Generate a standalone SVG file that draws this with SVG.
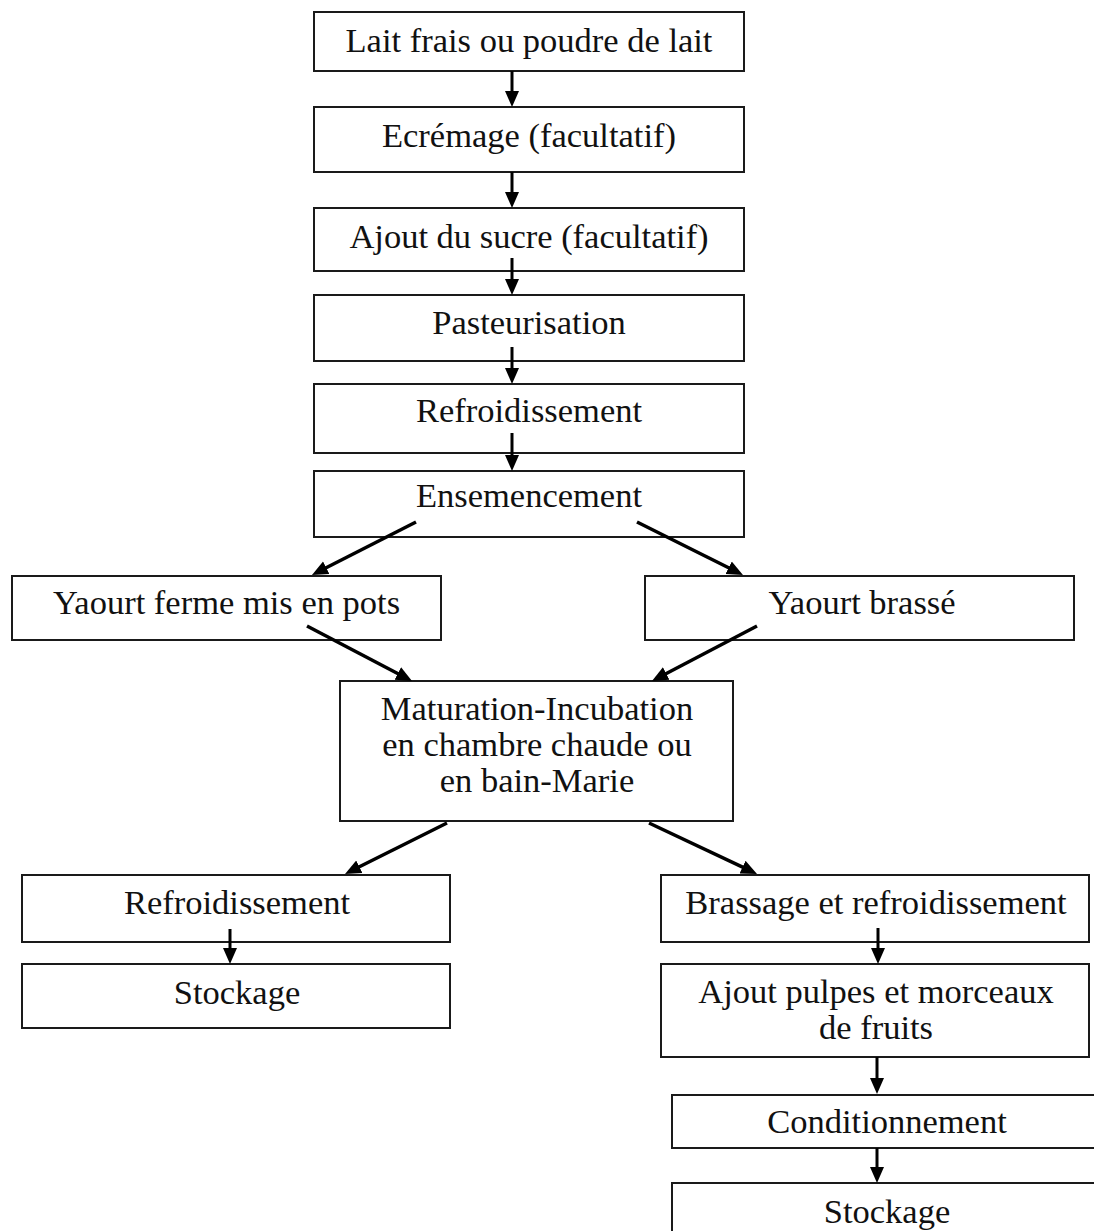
<svg xmlns="http://www.w3.org/2000/svg" width="1094" height="1231" viewBox="0 0 1094 1231">
<style>
.box{fill:#fff;stroke:#1a1a1a;stroke-width:2}
.t{font-family:"Liberation Serif","Times New Roman",serif;font-size:34.5px;fill:#111;text-anchor:middle}
.c{stroke:#000;stroke-width:3.5;fill:none;marker-end:url(#ah)}
.v{stroke-width:3}
</style>
<defs>
<marker id="ah" markerUnits="userSpaceOnUse" markerWidth="16" markerHeight="16" viewBox="0 0 16 16" refX="10" refY="8" orient="auto">
<path d="M0,1 L16,8 L0,15 z" fill="#000"/>
</marker>
</defs>
<rect width="1094" height="1231" fill="#fff"/>
<g id="n1"><rect class="box" x="314" y="12" width="430" height="59"/><text class="t" x="529" y="52">Lait frais ou poudre de lait</text></g>
<g id="n2"><rect class="box" x="314" y="107" width="430" height="65"/><text class="t" x="529" y="147">Ecrémage (facultatif)</text></g>
<g id="n3"><rect class="box" x="314" y="208" width="430" height="63"/><text class="t" x="529" y="248">Ajout du sucre (facultatif)</text></g>
<g id="n4"><rect class="box" x="314" y="295" width="430" height="66"/><text class="t" x="529" y="334">Pasteurisation</text></g>
<g id="n5"><rect class="box" x="314" y="384" width="430" height="69"/><text class="t" x="529" y="422">Refroidissement</text></g>
<g id="n6"><rect class="box" x="314" y="471" width="430" height="66"/><text class="t" x="529" y="507">Ensemencement</text></g>
<g id="n7"><rect class="box" x="12" y="576" width="429" height="64"/><text class="t" x="226.5" y="614">Yaourt ferme mis en pots</text></g>
<g id="n8"><rect class="box" x="645" y="576" width="429" height="64"/><text class="t" x="862" y="614">Yaourt brassé</text></g>
<g id="n9"><rect class="box" x="340" y="681" width="393" height="140"/>
<text class="t" x="537" y="720">Maturation-Incubation</text>
<text class="t" x="537" y="756">en chambre chaude ou</text>
<text class="t" x="537" y="792">en bain-Marie</text></g>
<g id="n10"><rect class="box" x="22" y="875" width="428" height="67"/><text class="t" x="237" y="914">Refroidissement</text></g>
<g id="n11"><rect class="box" x="22" y="964" width="428" height="64"/><text class="t" x="237" y="1004">Stockage</text></g>
<g id="n12"><rect class="box" x="661" y="875" width="428" height="67"/><text class="t" x="876" y="914">Brassage et refroidissement</text></g>
<g id="n13"><rect class="box" x="661" y="964" width="428" height="93"/>
<text class="t" x="876" y="1003">Ajout pulpes et morceaux</text>
<text class="t" x="876" y="1039">de fruits</text></g>
<g id="n14"><rect class="box" x="672" y="1095" width="430" height="53"/><text class="t" x="887" y="1133">Conditionnement</text></g>
<g id="n15"><rect class="box" x="672" y="1183" width="430" height="60"/><text class="t" x="887" y="1223">Stockage</text></g>
<g id="connectors">
<line class="c v" x1="512" y1="71" x2="512" y2="101"/>
<line class="c v" x1="512" y1="172" x2="512" y2="202"/>
<line class="c v" x1="512" y1="258" x2="512" y2="289"/>
<line class="c v" x1="512" y1="347" x2="512" y2="378"/>
<line class="c v" x1="512" y1="433" x2="512" y2="465"/>
<line class="c" x1="416" y1="522" x2="317.3" y2="572.3"/>
<line class="c" x1="637" y1="522" x2="737.6" y2="572.3"/>
<line class="c" x1="307" y1="626" x2="406.7" y2="678.2"/>
<line class="c" x1="757" y1="626" x2="657.3" y2="678.2"/>
<line class="c" x1="447" y1="823" x2="350.4" y2="871.3"/>
<line class="c" x1="649" y1="823" x2="751.6" y2="871.4"/>
<line class="c v" x1="230" y1="929" x2="230" y2="958"/>
<line class="c v" x1="878" y1="928" x2="878" y2="958"/>
<line class="c v" x1="877" y1="1057" x2="877" y2="1088"/>
<line class="c v" x1="877" y1="1148" x2="877" y2="1177"/>
</g>
</svg>
